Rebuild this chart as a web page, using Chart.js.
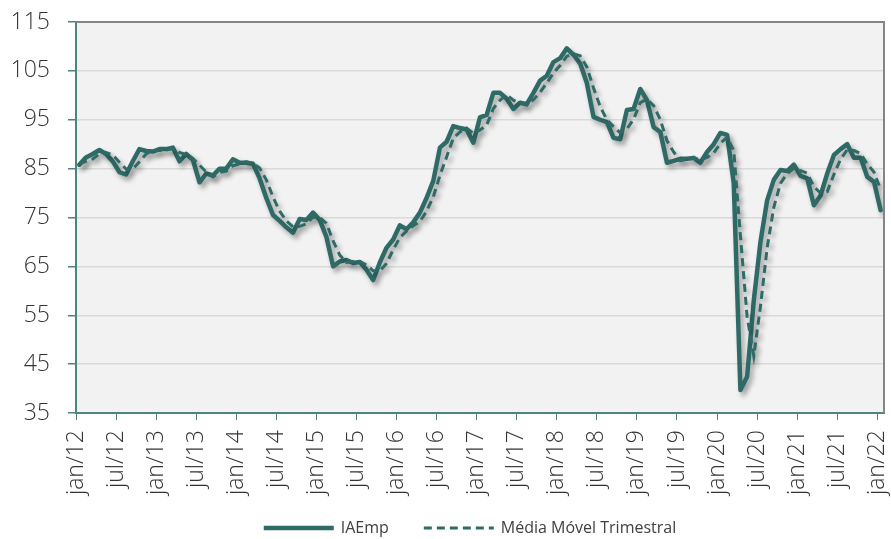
<!DOCTYPE html>
<html>
<head>
<meta charset="utf-8">
<script src="https://cdn.jsdelivr.net/npm/chart.js@4"></script>
<style>
  html, body { margin: 0; padding: 0; background: #fff; }
  #wrap { width: 891px; height: 539px; }
</style>
</head>
<body>
<div id="wrap"><canvas id="chartIAEmp"></canvas></div>
<script>
const tickLabels = ['jan/12', 'jul/12', 'jan/13', 'jul/13', 'jan/14', 'jul/14', 'jan/15', 'jul/15', 'jan/16', 'jul/16',
    'jan/17', 'jul/17', 'jan/18', 'jul/18', 'jan/19', 'jul/19', 'jan/20', 'jul/20', 'jan/21', 'jul/21', 'jan/22'];

// mensal, jan/12 .. jan/22
const iaemp = [
    85.8, 87.3, 88.0, 88.8, 88.0, 86.5, 84.3, 83.8, 86.5, 89.0, 88.6, 88.5,
    89.0, 89.0, 89.3, 86.5, 88.0, 86.8, 82.2, 84.0, 83.6, 85.0, 85.0, 86.9,
    86.2, 86.2, 86.0, 83.0, 79.0, 75.5, 74.3, 73.0, 71.9, 74.7, 74.5, 76.0,
    74.5, 71.0, 65.0, 66.0, 66.3, 65.7, 65.9, 64.3, 62.2, 65.8, 68.8, 70.5,
    73.4, 72.6, 74.0, 76.0, 79.0, 82.5, 89.3, 90.5, 93.7, 93.3, 93.0, 90.3,
    95.5, 96.0, 100.5, 100.5, 99.3, 97.2, 98.5, 98.2, 100.5, 103.0, 104.0, 106.8,
    107.6, 109.6, 108.3, 106.5, 102.5, 95.6, 95.0, 94.5, 91.3, 91.0, 97.0, 97.2,
    101.3, 99.0, 93.5, 92.5, 86.2, 86.6, 87.0, 87.0, 87.2, 86.2, 88.4, 90.0,
    92.3, 91.9, 82.0, 39.7, 42.4, 58.0, 70.0, 78.5, 82.7, 84.7, 84.5, 85.8,
    83.5, 83.0, 77.5, 79.5, 84.0, 87.8, 89.0, 90.0, 87.2, 87.2, 83.3, 82.3,
    76.5
];

const mediaMovel = [
    86.0, 86.5, 87.0, 88.0, 88.3, 87.8, 86.3, 84.9, 84.9, 86.4, 88.0, 88.7,
    88.7, 88.8, 89.1, 88.3, 87.9, 87.1, 85.7, 84.3, 83.3, 84.2, 84.5, 85.6,
    86.0, 86.4, 86.1, 85.1, 82.7, 79.2, 76.3, 74.3, 73.1, 73.2, 73.7, 75.1,
    75.0, 73.8, 70.2, 67.3, 65.8, 66.0, 66.0, 65.3, 64.1, 64.1, 65.6, 68.4,
    70.9, 72.2, 73.3, 74.2, 76.3, 79.2, 83.6, 87.4, 91.2, 92.5, 93.3, 92.2,
    92.9, 93.9, 97.3, 99.0, 100.1, 99.0, 98.3, 98.0, 99.1, 100.6, 102.5, 104.6,
    106.1, 108.0, 108.5, 108.1, 105.8, 101.5, 97.7, 95.0, 93.6, 92.3, 93.1, 95.1,
    98.5, 99.2, 97.9, 95.0, 90.7, 88.4, 86.6, 86.9, 87.1, 86.8, 87.3, 88.2,
    90.2, 91.4, 88.7, 71.2, 54.7, 46.7, 56.8, 68.8, 77.1, 82.0, 84.0, 85.0,
    84.6, 84.1, 81.3, 80.0, 80.3, 83.8, 86.9, 88.9, 88.7, 88.1, 85.9, 84.3,
    80.7
];

const corLinha = '#2e6a66';
const corEixo = '#4d8480';
const fonte = "'Open Sans', sans-serif";

// fundo cinza + borda superior/direita da area do grafico
const plotFrame = {
    id: 'plotFrame',
    beforeDraw(chart) {
        const { ctx, chartArea: a } = chart;
        ctx.save();
        ctx.fillStyle = '#f2f2f2';
        ctx.fillRect(a.left, a.top, a.right - a.left, a.bottom - a.top);
        ctx.restore();
    },
    afterDatasetsDraw(chart) {
        const { ctx, chartArea: a } = chart;
        ctx.save();
        ctx.strokeStyle = '#858585';
        ctx.lineWidth = 2;
        ctx.beginPath();
        ctx.moveTo(a.left, a.top);
        ctx.lineTo(a.right, a.top);
        ctx.lineTo(a.right, a.bottom);
        ctx.stroke();
        ctx.restore();
    }
};

// sombra nas linhas
const lineShadow = {
    id: 'lineShadow',
    beforeDatasetDraw(chart) {
        const ctx = chart.ctx;
        ctx.save();
        ctx.shadowColor = 'rgba(0, 0, 0, 0.35)';
        ctx.shadowBlur = 5;
        ctx.shadowOffsetX = 3;
        ctx.shadowOffsetY = 4;
    },
    afterDatasetDraw(chart) {
        chart.ctx.restore();
    }
};

// legenda embaixo, desenhada a mao (linha de 70px + texto)
const legendaLinhas = {
    id: 'legendaLinhas',
    afterDraw(chart) {
        const ctx = chart.ctx;
        const ds = chart.data.datasets;
        ctx.save();
        ctx.font = '16px ' + fonte;
        ctx.textBaseline = 'middle';
        const larg = ds.map(d => ctx.measureText(d.label).width);
        const total = ds.length * 77 + larg.reduce((s, w) => s + w, 0) + 35 * (ds.length - 1);
        let x = 470 - total / 2;
        const y = 528;
        ds.forEach((d, i) => {
            ctx.strokeStyle = d.borderColor;
            ctx.lineWidth = d.borderWidth;
            ctx.setLineDash(d.borderDash || []);
            ctx.beginPath();
            ctx.moveTo(x, y);
            ctx.lineTo(x + 70, y);
            ctx.stroke();
            ctx.fillStyle = '#404040';
            ctx.fillText(d.label, x + 77, y);
            x += 77 + larg[i] + 35;
        });
        ctx.restore();
    }
};

const ctx = document.getElementById('chartIAEmp').getContext('2d');
const chartIAEmp = new Chart(ctx, {
    type: 'line',
    data: {
        datasets: [
            {
                label: 'IAEmp',
                data: iaemp.map((v, i) => ({ x: i, y: v })),
                borderColor: corLinha,
                backgroundColor: corLinha,
                borderWidth: 4.5,
                borderJoinStyle: 'round',
                borderCapStyle: 'round',
                pointRadius: 0,
                tension: 0,
                order: 1
            },
            {
                label: 'Média Móvel Trimestral',
                data: mediaMovel.map((v, i) => ({ x: i, y: v })),
                borderColor: corLinha,
                backgroundColor: corLinha,
                borderWidth: 3,
                borderDash: [8, 5],
                pointRadius: 0,
                tension: 0,
                order: 0
            }
        ]
    },
    options: {
        responsive: true,
        maintainAspectRatio: false,
        animation: false,
        layout: { padding: { top: 22, right: 7, left: 0, bottom: 36 } },
        plugins: {
            legend: { display: false },
            tooltip: { enabled: false }
        },
        scales: {
            x: {
                type: 'linear',
                min: -0.5,
                max: 120.5,
                afterBuildTicks: (scale) => {
                    scale.ticks = tickLabels.map((t, k) => ({ value: -0.5 + 6 * k }));
                },
                afterFit: (scale) => {
                    scale.height = 90;
                    scale.paddingLeft = 0;
                    scale.paddingRight = 0;
                },
                ticks: {
                    autoSkip: false,
                    maxRotation: 90,
                    minRotation: 90,
                    padding: 10,
                    color: '#333',
                    font: { family: fonte, size: 23, weight: 300 },
                    callback: (v, idx) => tickLabels[idx]
                },
                grid: {
                    drawOnChartArea: false,
                    drawTicks: true,
                    tickLength: 7,
                    tickColor: corEixo
                },
                border: { color: corEixo, width: 2 }
            },
            y: {
                min: 35,
                max: 115,
                afterFit: (scale) => {
                    scale.width = 76;
                    scale.paddingTop = 0;
                    scale.paddingBottom = 0;
                },
                ticks: {
                    stepSize: 10,
                    padding: 18,
                    color: '#333',
                    font: { family: fonte, size: 23, weight: 300 }
                },
                grid: {
                    color: '#d9d9d9',
                    lineWidth: 1.5,
                    tickLength: 8,
                    tickColor: corEixo
                },
                border: { color: corEixo, width: 2 }
            }
        }
    },
    plugins: [plotFrame, lineShadow, legendaLinhas]
});
</script>
</body>
</html>
